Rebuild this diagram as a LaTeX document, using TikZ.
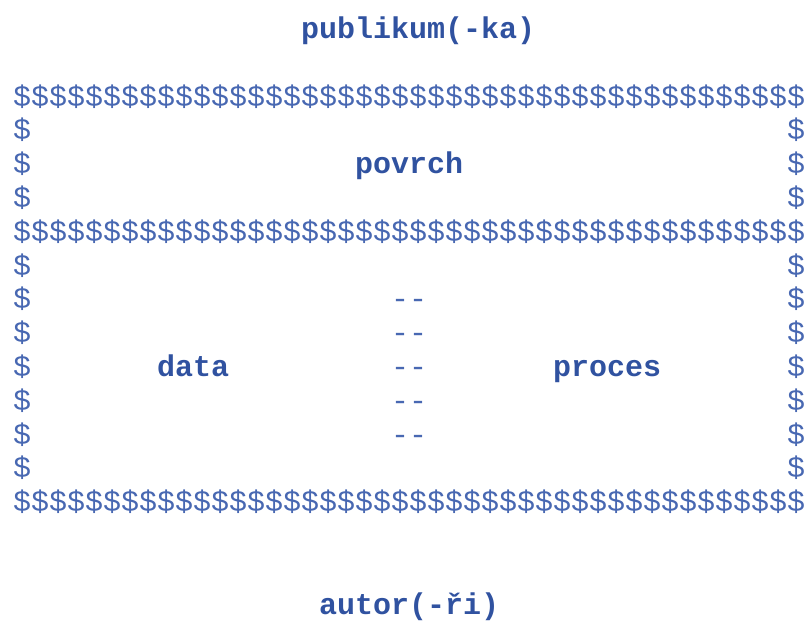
\documentclass[tikz,border=0pt]{standalone}
\usepackage{fontspec}
\usepackage{tikz}
\newfontfamily\asciifont{Liberation Mono}
\definecolor{ink}{RGB}{48,82,160}
\definecolor{inklight}{RGB}{72,104,178}

\tikzset{
  dol/.style={font=\asciifont\fontsize{30}{34}\selectfont, text=inklight, inner sep=0pt, anchor=base west},
  lbl/.style={dol, text=ink, font=\asciifont\bfseries\fontsize{30}{34}\selectfont}
}

\begin{document}
\begin{tikzpicture}[x=1pt,y=-1pt]
\useasboundingbox (0,0) rectangle (805,621);

% full rows of dollars
\foreach \c in {0,...,43} {
  \node[dol] (t\c) at (13+18*\c, 38.5+33.8*2) {\$};
  \node[dol] (m\c) at (13+18*\c, 38.5+33.8*6) {\$};
  \node[dol] (b\c) at (13+18*\c, 38.5+33.8*14) {\$};
}

% side dollars
\foreach \r in {3,4,5,7,8,9,10,11,12,13} {
  \node[dol] (l\r) at (13, 38.5+33.8*\r) {\$};
  \node[dol] (r\r) at (13+18*43, 38.5+33.8*\r) {\$};
}

% separators
\foreach \r in {8,...,12}
  \node[dol] (sep\r) at (13+18*21, 38.5+33.8*\r) {-{}-};

\node[lbl] (publikum) at (13+18*16, 38.5) {publikum(-ka)};
\node[lbl] (povrch) at (13+18*19, 38.5+33.8*4) {povrch};
\node[lbl] (data) at (13+18*8, 38.5+33.8*10) {data};
\node[lbl] (proces) at (13+18*30, 38.5+33.8*10) {proces};
\node[lbl] (autor) at (13+18*17, 40+33.8*17) {autor(-ři)};
\end{tikzpicture}
\end{document}
